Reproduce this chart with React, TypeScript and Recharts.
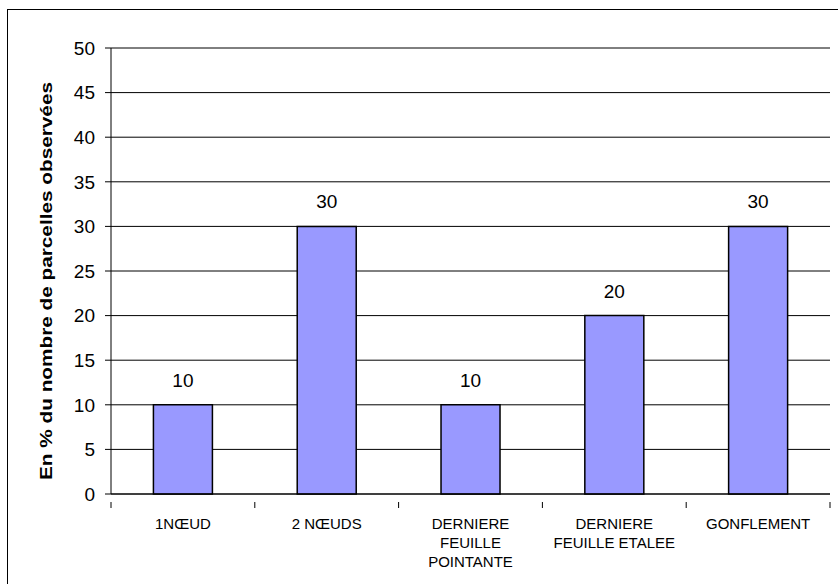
import React from 'react';
import { BarChart, Bar, XAxis, YAxis, CartesianGrid, LabelList } from 'recharts';

const stages = ['1NŒUD', '2 NŒUDS', 'DERNIERE FEUILLE POINTANTE', 'DERNIERE FEUILLE ETALEE', 'GONFLEMENT'];
const stageLines = [['1NŒUD'], ['2 NŒUDS'], ['DERNIERE', 'FEUILLE', 'POINTANTE'], ['DERNIERE', 'FEUILLE ETALEE'], ['GONFLEMENT']];
const percents = [10, 30, 10, 20, 30];
const yTicks = [0, 5, 10, 15, 20, 25, 30, 35, 40, 45, 50];

const data = stages.map((s, i) => ({ stage: s, value: percents[i] }));

const FONT = '"Liberation Sans", Arial, sans-serif';

// category labels, split on several lines, plus tick marks at the category edges
const StageTick = (props: any) => {
  const { x, y, payload, index, width, visibleTicksCount } = props;
  const bw = width / (visibleTicksCount || stages.length);
  const lines = stageLines[index] || [payload.value];
  return (
    <g>
      <line x1={x - bw / 2} x2={x - bw / 2} y1={y} y2={y + 6} stroke="#000" />
      {index === stages.length - 1 && (
        <line x1={x + bw / 2} x2={x + bw / 2} y1={y} y2={y + 6} stroke="#000" />
      )}
      <text x={x} y={y + 27} textAnchor="middle" fontSize={15} fontFamily={FONT} fill="#000">
        {lines.map((l: string, i: number) => (
          <tspan key={i} x={x} dy={i === 0 ? 0 : 19}>{l}</tspan>
        ))}
      </text>
    </g>
  );
};

const YTitle = (props: any) => {
  const { viewBox } = props;
  const cx = 46;
  const cy = viewBox.y + viewBox.height / 2 + 10;
  return (
    <text
      x={cx}
      y={cy}
      transform={`rotate(-90, ${cx}, ${cy})`}
      textAnchor="middle"
      dominantBaseline="central"
      fontSize={17}
      fontWeight="bold"
      fontFamily={FONT}
      fill="#000"
      textLength={398}
      lengthAdjust="spacingAndGlyphs"
    >
      En % du nombre de parcelles observées
    </text>
  );
};

export default function App() {
  return (
    <div style={{ position: 'absolute', left: 0, top: 0, width: 838, height: 584, background: '#fff', overflow: 'hidden' }}>
      <div style={{ position: 'absolute', left: 7, top: 9, width: 840, height: 590, borderLeft: '1px solid #000', borderTop: '1px solid #000' }} />
      <BarChart
        width={838}
        height={584}
        data={data}
        margin={{ top: 48, right: 8, bottom: 0, left: 51 }}
        barCategoryGap="29.5%"
        style={{ position: 'absolute', left: 0, top: 0 }}
      >
        <CartesianGrid vertical={false} stroke="#000" strokeWidth={1} />
        <XAxis
          dataKey="stage"
          axisLine={{ stroke: '#000' }}
          tickLine={false}
          interval={0}
          tick={<StageTick />}
          height={90}
        />
        <YAxis
          width={60}
          domain={[0, 50]}
          ticks={yTicks}
          interval={0}
          axisLine={{ stroke: '#000' }}
          tickLine={{ stroke: '#000' }}
          tickSize={6}
          tickMargin={10}
          tick={{ fontSize: 19, fill: '#000', fontFamily: FONT }}
          label={<YTitle />}
        />
        <Bar dataKey="value" fill="#9999FF" stroke="#000" strokeWidth={1.5} isAnimationActive={false}>
          <LabelList dataKey="value" position="top" offset={18} fontSize={19} fill="#000" fontFamily={FONT} />
        </Bar>
      </BarChart>
    </div>
  );
}
